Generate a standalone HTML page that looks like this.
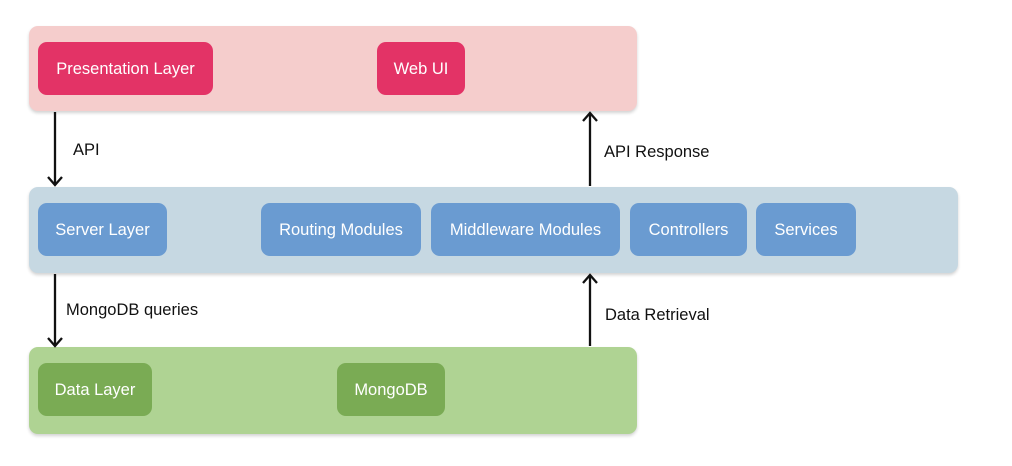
<!DOCTYPE html>
<html><head><meta charset="utf-8"><style>
body{margin:0;width:1012px;height:466px;background:#fff;position:relative;overflow:hidden;font-family:"Liberation Sans",sans-serif}
.c{position:absolute;border-radius:9px;box-shadow:0 2px 3px rgba(0,0,0,0.18)}
.n{position:absolute;border-radius:9px;color:#fff;font-size:16.5px;display:flex;align-items:center;justify-content:center;white-space:nowrap;padding-top:1px;box-sizing:border-box}
.p{background:#f5cdcc}.pn{background:#e33366}
.b{background:#c6d8e2}.bn{background:#6a9bd1}
.g{background:#afd393}.gn{background:#7aab54}
.l{position:absolute;font-size:16.5px;color:#111;white-space:nowrap}
</style></head><body>
<div class="c p" style="left:29px;top:26px;width:608px;height:85px"></div>
<div class="n pn" style="left:38px;top:42px;width:175px;height:53px">Presentation Layer</div>
<div class="n pn" style="left:377px;top:42px;width:88px;height:53px">Web UI</div>

<div class="c b" style="left:29px;top:187px;width:929px;height:86px"></div>
<div class="n bn" style="left:38px;top:203px;width:129px;height:53px">Server Layer</div>
<div class="n bn" style="left:261px;top:203px;width:160px;height:53px">Routing Modules</div>
<div class="n bn" style="left:431px;top:203px;width:189px;height:53px">Middleware Modules</div>
<div class="n bn" style="left:630px;top:203px;width:117px;height:53px">Controllers</div>
<div class="n bn" style="left:756px;top:203px;width:100px;height:53px">Services</div>

<div class="c g" style="left:29px;top:347px;width:608px;height:87px"></div>
<div class="n gn" style="left:38px;top:363px;width:114px;height:53px">Data Layer</div>
<div class="n gn" style="left:337px;top:363px;width:108px;height:53px">MongoDB</div>

<svg width="1012" height="466" style="position:absolute;left:0;top:0" fill="none" stroke="#111" stroke-width="2.3">
<line x1="55" y1="112" x2="55" y2="185"/><polyline points="48,177 55,185 62,177"/>
<line x1="590" y1="186" x2="590" y2="113"/><polyline points="583,121 590,113 597,121"/>
<line x1="55" y1="274" x2="55" y2="346"/><polyline points="48,338 55,346 62,338"/>
<line x1="590" y1="346" x2="590" y2="275"/><polyline points="583,283 590,275 597,283"/>
</svg>
<div class="l" style="left:73px;top:141px">API</div>
<div class="l" style="left:604px;top:143px">API Response</div>
<div class="l" style="left:66px;top:301px">MongoDB queries</div>
<div class="l" style="left:605px;top:306px">Data Retrieval</div>
</body></html>
